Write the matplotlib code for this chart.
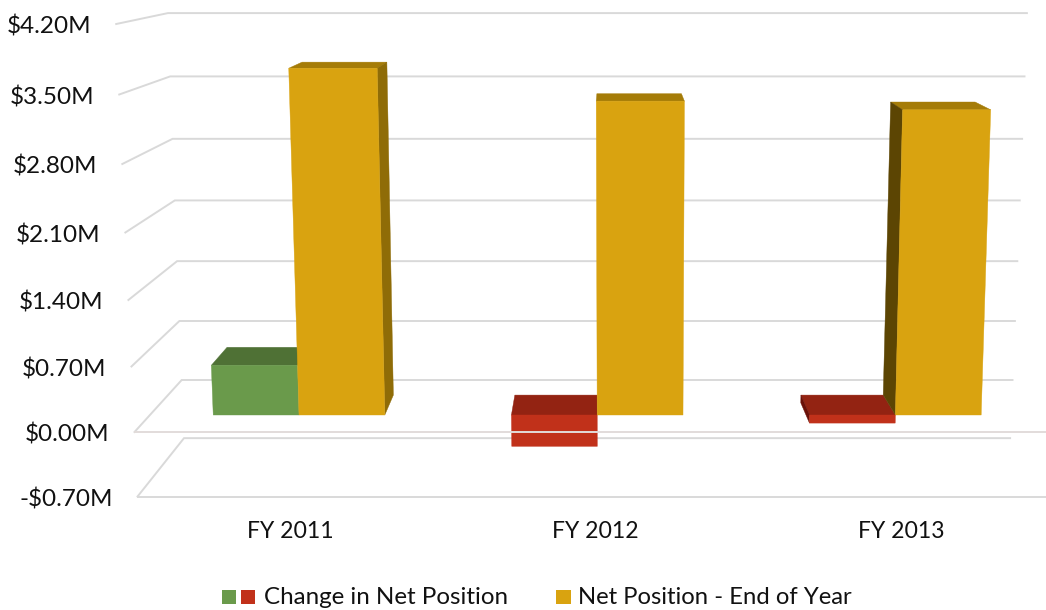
import numpy as np
import matplotlib
matplotlib.use("Agg")
import matplotlib.pyplot as plt
from matplotlib.patches import Polygon, Rectangle

plt.rcParams['font.family'] = ['Lato', 'DejaVu Sans']

categories = ['FY 2011', 'FY 2012', 'FY 2013']
change_in_net = [0.55, -0.35, -0.09]
net_position = [3.71, 3.37, 3.28]
axis_ticks = [-0.70, 0.00, 0.70, 1.40, 2.10, 2.80, 3.50, 4.20]
legend_labels = ['Change in Net Position', 'Net Position - End of Year']

GRID = '#d9d9d9'
GREEN = {'front': '#6a9a4b', 'top': '#4f7135'}
RED = {'front': '#c1311a', 'top': '#932312', 'left': '#6a1008'}
GOLD = {'front': '#d9a310', 'top': '#a57c08', 'right': '#8f6c07', 'left': '#5c4503'}

TICK_STEP = 0.70
BAR_W = 0.0959
D_FRONT, D_BACK = 0.327, 0.71


def lerp(a, b, f):
    return a + (b - a) * f


# perspective of the 3d box: u = 0..1 across, v = value in $M, d = 0 front, 1 back wall
def proj(u, v, d):
    t = v / TICK_STEP
    y = lerp(432 - 65 * t - 0.5 * t ** 2, 380 - 58.57 * t - 0.43 * t ** 2, d)
    left = lerp(134.5 - 3.05 * t, 181.7 - 2.3 * t, d)
    right = lerp(1060 + 2.4 * t, 1012.5 + 2.4 * t, d)
    return lerp(left, right, u), y


def face(ax, pts, color, z):
    ax.add_patch(Polygon(pts, closed=True, facecolor=color, edgecolor=color, lw=0.3, zorder=z))


def bar(ax, u0, u1, v, pal, z):
    v0, v1 = min(0, v), max(0, v)
    # top
    face(ax, [proj(u0, v1, D_FRONT), proj(u1, v1, D_FRONT), proj(u1, v1, D_BACK), proj(u0, v1, D_BACK)], pal['top'], z)
    # sides, only the one the camera can see (skip slivers under 2px)
    if 'left' in pal and proj(u0, v0, D_BACK)[0] < proj(u0, v0, D_FRONT)[0] - 2:
        face(ax, [proj(u0, v0, D_FRONT), proj(u0, v1, D_FRONT), proj(u0, v1, D_BACK), proj(u0, v0, D_BACK)], pal['left'], z)
    if 'right' in pal and proj(u1, v1, D_BACK)[0] > proj(u1, v1, D_FRONT)[0] + 2:
        face(ax, [proj(u1, v0, D_FRONT), proj(u1, v1, D_FRONT), proj(u1, v1, D_BACK), proj(u1, v0, D_BACK)], pal['right'], z)
    # front
    face(ax, [proj(u0, v0, D_FRONT), proj(u1, v0, D_FRONT), proj(u1, v1, D_FRONT), proj(u0, v1, D_FRONT)], pal['front'], z + 0.1)


fig = plt.figure(figsize=(10.46, 6.10), dpi=100)
ax = fig.add_axes([0, 0, 1, 1])
ax.set_xlim(0, 1046)
ax.set_ylim(610, 0)
ax.axis('off')

# walls
for v in axis_ticks:
    fx, fy = proj(0, v, 0)
    bx, by = proj(0, v, 1)
    rx, ry = proj(1, v, 1)
    ax.plot([fx, bx, rx], [fy, by, ry], color=GRID, lw=1.4, zorder=1, solid_joinstyle='miter')
    label = f'${v:.2f}M' if v >= 0 else f'-${abs(v):.2f}M'
    ax.text(fx - 25, fy + 3, label, ha='right', va='center', fontsize=17.5, color='#111111')

# floor edges at the front
for v, z in [(-0.70, 1), (0.00, 8)]:
    fx, fy = proj(0, v, 0)
    rx, ry = proj(1, v, 0)
    ax.plot([fx, rx], [fy, ry], color='#e2dcda' if z > 1 else GRID, lw=1.4, zorder=z)

# bars left to right, gold one after the change bar beside it
for i in range(len(categories)):
    c = (i + 0.5) / 3
    pal = GREEN if change_in_net[i] >= 0 else RED
    bar(ax, c - BAR_W, c, change_in_net[i], pal, 3 + i)
    bar(ax, c, c + BAR_W, net_position[i], GOLD, 3.5 + i)

for i, name in enumerate(categories):
    ax.text(290 + 305.5 * i, 532, name, ha='center', va='center', fontsize=16.6, color='#111111')

# legend
ax.add_patch(Rectangle((222, 590), 14, 14, facecolor=GREEN['front'], edgecolor='none'))
ax.add_patch(Rectangle((241, 590), 14, 14, facecolor=RED['front'], edgecolor='none'))
ax.add_patch(Rectangle((556, 590), 15, 14, facecolor=GOLD['front'], edgecolor='none'))
ax.text(264, 598, legend_labels[0], ha='left', va='center', fontsize=17.4, color='#111111')
ax.text(578, 598, legend_labels[1], ha='left', va='center', fontsize=17.2, color='#111111')

fig.savefig('out.png', dpi=100)
